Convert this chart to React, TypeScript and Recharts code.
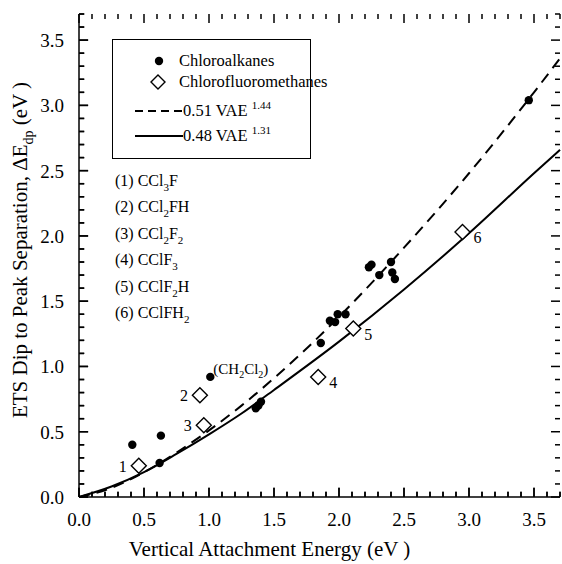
import React from "react";
import { ComposedChart, Scatter, Line, XAxis, YAxis, ReferenceLine } from "recharts";

// chloroalkanes (filled dots)
const alkaneVae = [0.41, 0.62, 0.63, 1.36, 1.38, 1.40, 1.86, 1.93, 1.97, 1.99, 2.05, 2.23, 2.25, 2.31, 2.40, 2.41, 2.43, 3.46];
const alkaneSep = [0.40, 0.26, 0.47, 0.68, 0.70, 0.73, 1.18, 1.35, 1.34, 1.40, 1.40, 1.76, 1.78, 1.70, 1.80, 1.72, 1.67, 3.04];

// the one chloroalkane that is named on the plot
const namedVae = [1.01];
const namedSep = [0.92];

// chlorofluoromethanes (open diamonds)
const fluoroVae = [0.46, 0.93, 0.96, 1.84, 2.11, 2.95];
const fluoroSep = [0.24, 0.78, 0.55, 0.92, 1.29, 2.03];
const fluoroLabels = ["1", "2", "3", "4", "5", "6"];

// fitted curves
const fitVae = [0, 0.25, 0.5, 0.75, 1.0, 1.25, 1.5, 2.0, 2.5, 3.0, 3.5, 3.7];
const fitDashed = [0, 0.07, 0.19, 0.34, 0.51, 0.70, 0.91, 1.38, 1.91, 2.48, 3.10, 3.36];
const fitSolid = [0, 0.08, 0.19, 0.33, 0.48, 0.64, 0.82, 1.19, 1.59, 2.02, 2.48, 2.66];

const labelTicks = [0, 0.5, 1.0, 1.5, 2.0, 2.5, 3.0, 3.5];
const markTicks = [0, 0.1, 0.2, 0.3, 0.4, 0.5, 0.6, 0.7, 0.8, 0.9, 1.0, 1.1, 1.2, 1.3, 1.4, 1.5, 1.6, 1.7, 1.8, 1.9, 2.0,
  2.1, 2.2, 2.3, 2.4, 2.5, 2.6, 2.7, 2.8, 2.9, 3.0, 3.1, 3.2, 3.3, 3.4, 3.5, 3.6, 3.7];
const AXIS_MIN = 0;
const AXIS_MAX = 3.7;

const FONT = '"Liberation Serif", "DejaVu Serif", "Noto Serif", "Times New Roman", Times, serif';
const isMajor = (v: number) => Math.abs(v * 2 - Math.round(v * 2)) < 1e-6;
// tick length in axis units (about 5 px minor, 9 px major)
const markLen = (v: number) => (isMajor(v) ? 0.07 : 0.04);
const markPx = (v: number) => (isMajor(v) ? 9 : 5);

const alkanes = alkaneVae.map((x, i) => ({ x, y: alkaneSep[i] }));
const named = namedVae.map((x, i) => ({ x, y: namedSep[i] }));
const fluoro = fluoroVae.map((x, i) => ({ x, y: fluoroSep[i], label: fluoroLabels[i] }));
const dashed = fitVae.map((x, i) => ({ x, y: fitDashed[i] }));
const solid = fitVae.map((x, i) => ({ x, y: fitSolid[i] }));

// inward tick marks on the frame; bottom/left marks are anchored at their inner end
const topMarks = markTicks.map((t) => ({ x: t, y: AXIS_MAX, v: t, side: "t" }));
const rightMarks = markTicks.map((t) => ({ x: AXIS_MAX, y: t, v: t, side: "r" }));
const bottomMarks = markTicks.map((t) => ({ x: t, y: AXIS_MIN + markLen(t), v: t, side: "b" }));
const leftMarks = markTicks.map((t) => ({ x: AXIS_MIN + markLen(t), y: t, v: t, side: "l" }));

const TickMark = ({ cx, cy, payload }: any) => {
  const len = markPx(payload.v);
  const d =
    payload.side === "t" ? `M${cx},${cy} V${cy + len}` :
    payload.side === "r" ? `M${cx},${cy} H${cx - len}` :
    payload.side === "b" ? `M${cx},${cy} V${cy + len}` :
    `M${cx},${cy} H${cx - len}`;
  return <path d={d} stroke="#000" strokeWidth={1.5} fill="none" />;
};

const BottomLabel = ({ x, y, payload }: any) => (
  <text x={x} y={y + 29} textAnchor="middle" fontSize={19} fontFamily={FONT} fill="#000">
    {payload.value.toFixed(1)}
  </text>
);
const LeftLabel = ({ x, y, payload }: any) => (
  <text x={x - 15} y={y + 7} textAnchor="end" fontSize={19} fontFamily={FONT} fill="#000">
    {payload.value.toFixed(1)}
  </text>
);

const Dot = ({ cx, cy }: any) => <circle cx={cx} cy={cy} r={4.2} fill="#000" />;

const NamedDot = ({ cx, cy }: any) => (
  <g>
    <circle cx={cx} cy={cy} r={4.2} fill="#000" />
    <text x={cx + 3} y={cy - 3} fontSize={15} fontFamily={FONT} fill="#000">
      (CH<tspan dy={4} fontSize={10}>2</tspan>
      <tspan dy={-4}>Cl</tspan>
      <tspan dy={4} fontSize={10}>2</tspan>
      <tspan dy={-4}>)</tspan>
    </text>
  </g>
);

const Diamond = ({ cx, cy, payload }: any) => {
  const left = ["1", "2", "3"].includes(payload.label);
  return (
    <g>
      <path
        d={`M${cx},${cy - 7.5} L${cx + 7.5},${cy} L${cx},${cy + 7.5} L${cx - 7.5},${cy} Z`}
        fill="#fff"
        stroke="#000"
        strokeWidth={1.4}
      />
      <text x={left ? cx - 16 : cx + 15} y={left ? cy + 6 : cy + 11} textAnchor="middle" fontSize={16} fontFamily={FONT} fill="#000">
        {payload.label}
      </text>
    </g>
  );
};

const XTitle = ({ viewBox }: any) => (
  <text x={viewBox.x + viewBox.width / 2 - 50} y={556} textAnchor="middle" fontSize={21} fontFamily={FONT} fill="#000">
    Vertical Attachment Energy (eV )
  </text>
);

const YTitle = () => (
  <text transform="translate(27,250) rotate(-90)" textAnchor="middle" fontSize={21} fontFamily={FONT} fill="#000">
    ETS Dip to Peak Separation, ΔE<tspan dy={6} fontSize={14}>dp</tspan>
    <tspan dy={-6}> (eV )</tspan>
  </text>
);

const Sub = ({ children }: any) => (
  <span style={{ fontSize: 11, position: "relative", top: 5 }}>{children}</span>
);

const compounds: React.ReactNode[] = [
  <>(1) CCl<Sub>3</Sub>F</>,
  <>(2) CCl<Sub>2</Sub>FH</>,
  <>(3) CCl<Sub>2</Sub>F<Sub>2</Sub></>,
  <>(4) CClF<Sub>3</Sub></>,
  <>(5) CClF<Sub>2</Sub>H</>,
  <>(6) CClFH<Sub>2</Sub></>,
];

const legendRow: React.CSSProperties = { position: "absolute", left: 0, display: "flex", alignItems: "center", whiteSpace: "nowrap", height: 20 };
const axisLine = { stroke: "#000", strokeWidth: 1.5 };

export default function App() {
  return (
    <div style={{ position: "absolute", left: 0, top: 0, width: 562, height: 564, background: "#fff", fontFamily: FONT }}>
      <ComposedChart width={562} height={564} margin={{ top: 14, right: 2, bottom: 0, left: 0 }}>
        <XAxis dataKey="x" type="number" domain={[AXIS_MIN, AXIS_MAX]} ticks={labelTicks} interval={0} height={67}
          tickSize={0} tickMargin={0} tickLine={false} tick={<BottomLabel />} axisLine={axisLine} label={<XTitle />} />
        <XAxis xAxisId="top" orientation="top" dataKey="x" type="number" domain={[AXIS_MIN, AXIS_MAX]} height={0}
          tick={false} tickLine={false} axisLine={axisLine} />
        <YAxis type="number" domain={[AXIS_MIN, AXIS_MAX]} ticks={labelTicks} interval={0} width={79}
          tickSize={0} tickMargin={0} tickLine={false} tick={<LeftLabel />} axisLine={axisLine} label={<YTitle />} />
        <YAxis yAxisId="right" orientation="right" type="number" domain={[AXIS_MIN, AXIS_MAX]} width={0}
          tick={false} tickLine={false} axisLine={axisLine} />
        {markTicks.map((t) => (
          <ReferenceLine key={`b${t}`} segment={[{ x: t, y: AXIS_MIN }, { x: t, y: AXIS_MIN + markLen(t) }]} stroke="#000" strokeWidth={1.5} ifOverflow="visible" />
        ))}
        {markTicks.map((t) => (
          <ReferenceLine key={`l${t}`} segment={[{ x: AXIS_MIN, y: t }, { x: AXIS_MIN + markLen(t), y: t }]} stroke="#000" strokeWidth={1.5} ifOverflow="visible" />
        ))}
        <Scatter data={topMarks} dataKey="y" shape={<TickMark />} isAnimationActive={false} />
        <Scatter data={rightMarks} dataKey="y" shape={<TickMark />} isAnimationActive={false} />
        <Scatter data={bottomMarks} dataKey="y" shape={<TickMark />} isAnimationActive={false} />
        <Scatter data={leftMarks} dataKey="y" shape={<TickMark />} isAnimationActive={false} />
        <Line data={dashed} dataKey="y" type="monotone" stroke="#000" strokeWidth={2} strokeDasharray="11 7" dot={false} isAnimationActive={false} />
        <Line data={solid} dataKey="y" type="monotone" stroke="#000" strokeWidth={2} dot={false} isAnimationActive={false} />
        <Scatter data={alkanes} dataKey="y" shape={<Dot />} isAnimationActive={false} />
        <Scatter data={named} dataKey="y" shape={<NamedDot />} isAnimationActive={false} />
        <Scatter data={fluoro} dataKey="y" shape={<Diamond />} isAnimationActive={false} />
      </ComposedChart>

      <div style={{ position: "absolute", left: 112, top: 39, width: 197, height: 118, border: "1.5px solid #000", fontSize: 16.5 }}>
        <div style={{ ...legendRow, top: 11 }}>
          <svg width={66} height={20}><circle cx={46} cy={10} r={4.2} fill="#000" /></svg>
          <span>Chloroalkanes</span>
        </div>
        <div style={{ ...legendRow, top: 32 }}>
          <svg width={66} height={20}><path d="M45,3 L52,10 L45,17 L38,10 Z" fill="#fff" stroke="#000" strokeWidth={1.4} /></svg>
          <span>Chlorofluoromethanes</span>
        </div>
        <div style={{ ...legendRow, top: 60 }}>
          <svg width={70} height={20}><line x1={22} y1={11} x2={70} y2={11} stroke="#000" strokeWidth={2} strokeDasharray="8 5" /></svg>
          <span>0.51 VAE <sup style={{ fontSize: 11 }}>1.44</sup></span>
        </div>
        <div style={{ ...legendRow, top: 85 }}>
          <svg width={70} height={20}><line x1={22} y1={11} x2={70} y2={11} stroke="#000" strokeWidth={2} /></svg>
          <span>0.48 VAE <sup style={{ fontSize: 11 }}>1.31</sup></span>
        </div>
      </div>

      <div style={{ position: "absolute", left: 115, top: 170, fontSize: 16 }}>
        {compounds.map((c, i) => (
          <div key={i} style={{ whiteSpace: "nowrap", height: 26.4, lineHeight: "22px" }}>{c}</div>
        ))}
      </div>
    </div>
  );
}
